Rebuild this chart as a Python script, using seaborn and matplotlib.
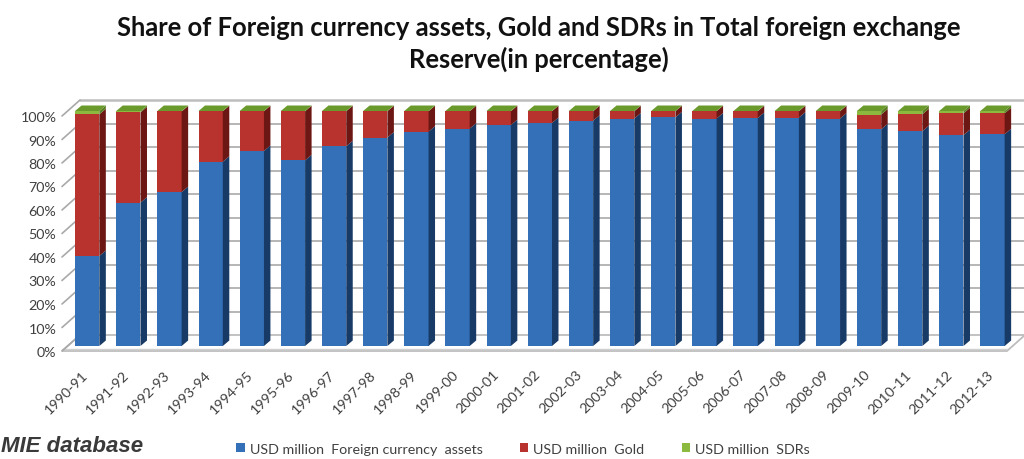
import numpy as np
import pandas as pd
import matplotlib
matplotlib.use("Agg")
import matplotlib.pyplot as plt
import seaborn as sns
from matplotlib.patches import Polygon
from matplotlib.transforms import ScaledTranslation

# ---- data: share of each component in total reserves (%) ----
years = ["1990-91", "1991-92", "1992-93", "1993-94", "1994-95", "1995-96",
         "1996-97", "1997-98", "1998-99", "1999-00", "2000-01", "2001-02",
         "2002-03", "2003-04", "2004-05", "2005-06", "2006-07", "2007-08",
         "2008-09", "2009-10", "2010-11", "2011-12", "2012-13"]
fca_share = [38.3, 61.0, 65.5, 78.4, 83.0, 79.0, 85.0, 88.7, 91.2, 92.5, 94.0, 94.9,
             95.9, 96.8, 97.3, 96.8, 97.0, 97.2, 96.8, 92.2, 91.4, 89.7, 90.1]
gold_share = [60.3, 38.4, 34.3, 21.5, 16.9, 20.9, 14.9, 11.2, 8.7, 7.4, 5.9, 5.0,
              4.0, 3.1, 2.6, 3.1, 2.9, 2.7, 3.1, 6.3, 7.2, 9.3, 8.9]
sdr_share = [1.4, 0.6, 0.2, 0.1, 0.1, 0.1, 0.1, 0.1, 0.1, 0.1, 0.1, 0.1,
             0.1, 0.1, 0.1, 0.1, 0.1, 0.1, 0.1, 1.5, 1.4, 1.0, 1.0]
series_labels = ["USD million  Foreign currency  assets", "USD million  Gold",
                 "USD million  SDRs"]
yticks = list(range(0, 101, 10))

# face colours (front, side, top) for each stacked component
FRONT = ["#3470b8", "#b8322e", "#8cba3e"]
SIDE = ["#173a66", "#6c1713", "#5a7f22"]
TOP = ["#4a82c8", "#c9483f", "#6a9a2c"]

sns.set_theme(style="white")
plt.rcParams["font.family"] = ["Lato", "DejaVu Sans"]

W, H, DPI = 1024, 460, 100
fig = plt.figure(figsize=(W / DPI, H / DPI), dpi=DPI)

# front plane of the pseudo-3D box, in pixels
STEP = 41.15          # px between category centres
YS = 2.35             # px per percentage point
CAT0 = 81.6           # px of first category on the front plane
LEFT, RIGHT = 62, 1007
BASE = 352            # px (from top) of 0 % on the front plane

ax = fig.add_axes([LEFT / W, (H - BASE) / H, (RIGHT - LEFT) / W, 100 * YS / H])

df = pd.DataFrame({"year": years, "fca": fca_share, "gold": gold_share, "sdr": sdr_share})
bottoms = [np.zeros(len(df)), df["fca"].to_numpy(), (df["fca"] + df["gold"]).to_numpy()]
for col, bot, colour, lab in zip(["fca", "gold", "sdr"], bottoms, FRONT, series_labels):
    sns.barplot(data=df, x="year", y=col, bottom=bot, color=colour, width=0.59,
                label=lab, linewidth=0, edgecolor="none", saturation=1, ax=ax,
                zorder=3)

if ax.get_legend() is not None:
    ax.get_legend().remove()

xmin = (LEFT - CAT0) / STEP
xmax = (RIGHT - CAT0) / STEP
ax.set_xlim(xmin, xmax)
ax.set_ylim(0, 100)
ax.set_xlabel("")
ax.set_ylabel("")
for s in ax.spines.values():
    s.set_visible(False)
ax.grid(False)
ax.patch.set_alpha(0)

# depth of the box (back wall) and of the bars, in data units
WALL_DX, WALL_DY = 18 / STEP, 16 / YS
BAR_DX, BAR_DY = 6.5 / STEP, 5.5 / YS
bar_shift = ScaledTranslation(5.6 / DPI, 5 / DPI, fig.dpi_scale_trans)
bar_tr = ax.transData + bar_shift

grid_col = "#a9a9a9"
# floor slab
floor = Polygon([(xmin, 0), (xmax, 0), (xmax + WALL_DX, WALL_DY), (xmin + WALL_DX, WALL_DY)],
                closed=True, facecolor="white", edgecolor="#bdbdbd", lw=1.3,
                zorder=1, clip_on=False)
ax.add_patch(floor)
ax.plot([xmin, xmax], [2 / YS, 2 / YS], color="#cfcfcf", lw=1.0, zorder=1, clip_on=False)

# back-wall gridlines and side-wall diagonals
for p in yticks:
    yb = p + WALL_DY
    lw = 1.8 if p == 100 else 1.2
    col = "#bdbdbd" if p == 100 else grid_col
    if p > 0:
        ax.plot([xmin + WALL_DX, xmax + WALL_DX + 1], [yb, yb], color=col, lw=lw,
                zorder=1.5, clip_on=False)
    ax.plot([xmin, xmin + WALL_DX], [p, yb], color=grid_col, lw=1.2, zorder=1.5,
            clip_on=False)

# shift bars into the box and give them side and top faces
n_series = len(ax.containers)
for si, cont in enumerate(ax.containers):
    for rect in cont.patches:
        rect.set_transform(bar_tr)
        x0, y0 = rect.get_xy()
        w, h = rect.get_width(), rect.get_height()
        side = Polygon([(x0 + w, y0), (x0 + w + BAR_DX, y0 + BAR_DY),
                        (x0 + w + BAR_DX, y0 + h + BAR_DY), (x0 + w, y0 + h)],
                       closed=True, facecolor=SIDE[si], edgecolor="none",
                       transform=bar_tr, zorder=3, clip_on=False)
        ax.add_patch(side)
        rect.set_clip_on(False)
        if si == n_series - 1:
            yt = y0 + h
            top = Polygon([(x0, yt), (x0 + w, yt), (x0 + w + BAR_DX, yt + BAR_DY),
                           (x0 + BAR_DX, yt + BAR_DY)],
                          closed=True, facecolor=TOP[si], edgecolor="none",
                          transform=bar_tr, zorder=3, clip_on=False)
            ax.add_patch(top)

# ticks
ax.set_yticks(yticks)
ax.set_yticklabels([f"{p}%" for p in yticks])
ax.tick_params(axis="y", length=0, pad=4, labelsize=10.3, labelcolor="#404040")
ax.tick_params(axis="x", length=0, pad=12, labelsize=10.3, labelcolor="#404040")
for lbl in ax.get_xticklabels():
    lbl.set_rotation(45)
    lbl.set_ha("right")
    lbl.set_va("top")
    lbl.set_rotation_mode("anchor")

# title
fig.text(539 / W, 1 - 16 / H,
         "Share of Foreign currency assets, Gold and SDRs in Total foreign exchange\n"
         "Reserve(in percentage)",
         ha="center", va="top", fontsize=18.4, fontweight="bold", color="#111111",
         linespacing=1.3)

# legend
handles, labels = ax.get_legend_handles_labels()
fig.legend(handles, labels, loc="center", bbox_to_anchor=(523 / W, 1 - 450 / H),
           ncol=3, frameon=False, fontsize=10.3, handlelength=0.6, handleheight=0.6,
           handletextpad=0.35, columnspacing=2.6, labelcolor="#404040")

# source note
fig.text(1 / W, 1 - 447 / H, "MIE database", ha="left", va="center",
         family=["Liberation Sans", "DejaVu Sans"], fontweight="bold",
         fontstyle="italic", fontsize=16, color="#3a3a3a")

fig.savefig("out.png", dpi=DPI, facecolor="white")
